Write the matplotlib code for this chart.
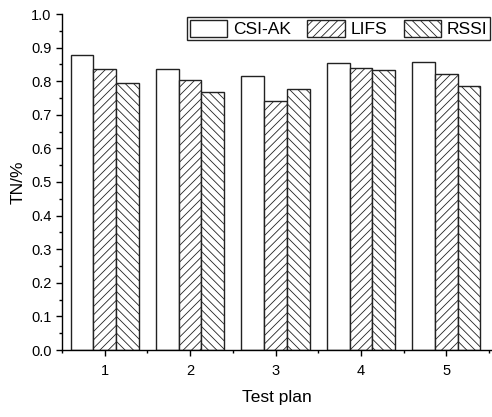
import numpy as np
import matplotlib
matplotlib.use('Agg')
import matplotlib.pyplot as plt
from matplotlib.ticker import MultipleLocator

plans = [1, 2, 3, 4, 5]
csi_ak = [0.878, 0.835, 0.816, 0.853, 0.858]
lifs = [0.835, 0.804, 0.740, 0.839, 0.821]
rssi = [0.796, 0.767, 0.776, 0.834, 0.785]

plt.rcParams['font.family'] = ['Liberation Sans', 'DejaVu Sans']
plt.rcParams['hatch.linewidth'] = 0.6
plt.rcParams['hatch.color'] = '#5a5a5a'

fig = plt.figure(figsize=(4.92, 4.17), dpi=100)
ax = fig.add_axes([62/492, 67/417, 430/492, 336/417])

x = np.array(plans, dtype=float)
w = 0.266
ax.bar(x - w, csi_ak, w, facecolor='white', edgecolor='#222222', linewidth=1.0, label='CSI-AK')
ax.bar(x, lifs, w, facecolor='white', edgecolor='#222222', linewidth=1.0, hatch='////', label='LIFS')
ax.bar(x + w, rssi, w, facecolor='white', edgecolor='#222222', linewidth=1.0, hatch='\\\\\\\\', label='RSSI')

ax.set_xlim(0.5, 5.535)
ax.set_ylim(0, 1.0)
ax.set_xticks(plans)
ax.xaxis.set_minor_locator(MultipleLocator(0.5))
ax.yaxis.set_major_locator(MultipleLocator(0.1))
ax.yaxis.set_minor_locator(MultipleLocator(0.05))
ax.yaxis.set_major_formatter(matplotlib.ticker.FormatStrFormatter('%.1f'))
ax.tick_params(which='major', direction='out', length=4, width=1, labelsize=10.5)
ax.tick_params(axis='x', which='major', pad=6)
ax.tick_params(which='minor', direction='out', length=2.5, width=1)

for s in ['top', 'right']:
    ax.spines[s].set_visible(False)
for s in ['left', 'bottom']:
    ax.spines[s].set_linewidth(1.0)

ax.set_xlabel('Test plan', fontsize=12.5, labelpad=9)
ax.set_ylabel('TN/%', fontsize=12.5, labelpad=4)

leg = ax.legend(ncol=3, loc='upper right', bbox_to_anchor=(0.995, 0.991), borderaxespad=0,
                fontsize=12.5, handlelength=2.15, handleheight=1.15, handletextpad=0.33,
                columnspacing=0.95, borderpad=0.15, fancybox=False, framealpha=1)
leg.get_frame().set_edgecolor('#222222')
leg.get_frame().set_linewidth(1.0)

fig.savefig('out.png', dpi=100)
